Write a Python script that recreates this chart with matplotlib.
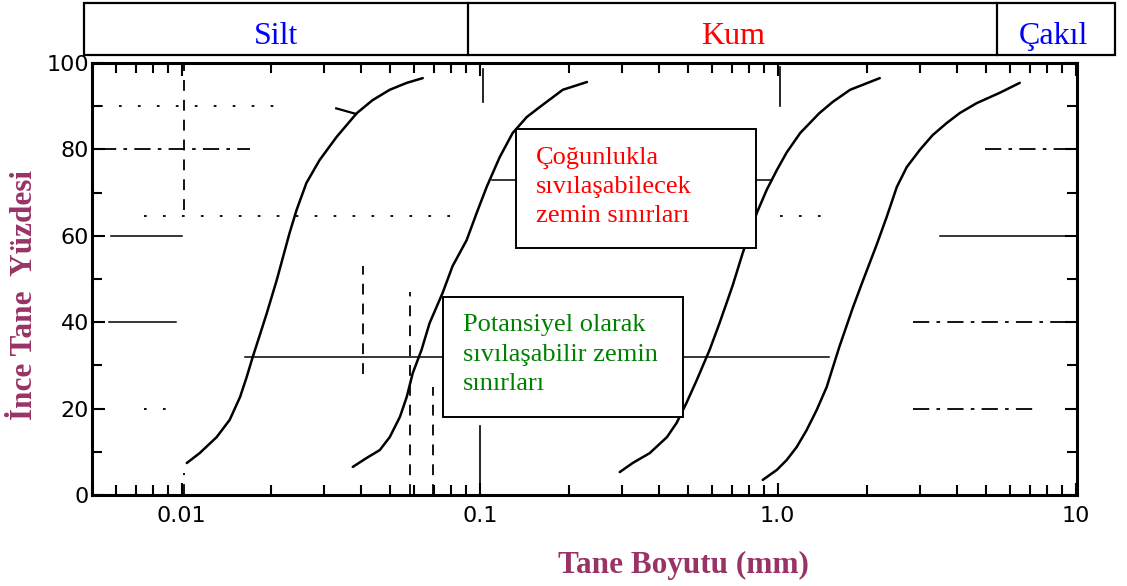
import matplotlib
matplotlib.use("Agg")
import matplotlib.pyplot as plt
from matplotlib.patches import Rectangle
from matplotlib.lines import Line2D

# Grain size limit curves (diameter in mm, percent finer)
c1_d = [0.0104, 0.01149, 0.0131, 0.01449, 0.0157, 0.01652, 0.0173, 0.01828, 0.0193, 0.02085,
        0.0230, 0.0243, 0.0262, 0.0290, 0.0331, 0.0387, 0.0437, 0.0499, 0.0569, 0.0644]
c1_p = [7.4, 9.7, 13.4, 17.4, 22.7, 27.3, 31.9, 37.0, 42.1, 49.8,
        60.6, 66.0, 72.2, 77.5, 82.9, 88.4, 91.4, 93.8, 95.4, 96.5]

c2_d = [0.0375, 0.0418, 0.0462, 0.0499, 0.054, 0.0569, 0.0596, 0.0638, 0.0679, 0.0751,
        0.0811, 0.0904, 0.0977, 0.1055, 0.1167, 0.129, 0.1439, 0.159, 0.190, 0.229]
c2_p = [6.5, 8.6, 10.4, 13.4, 18.1, 22.7, 28.2, 33.6, 39.8, 46.8,
        53.0, 59.0, 65.3, 71.3, 78.2, 83.8, 87.5, 89.8, 93.8, 95.6]

c3_d = [0.295, 0.326, 0.372, 0.425, 0.458, 0.494, 0.535, 0.591, 0.638, 0.674, 0.706,
        0.763, 0.851, 0.918, 0.993, 1.072, 1.19, 1.38, 1.53, 1.75, 2.20]
c3_p = [5.3, 7.4, 9.7, 13.4, 16.7, 21.3, 26.6, 33.6, 39.8, 44.5, 48.5,
        56.0, 65.3, 70.6, 75.2, 79.3, 83.8, 88.4, 91.0, 93.8, 96.5]

c4_d = [0.891, 0.993, 1.072, 1.158, 1.25, 1.352, 1.46, 1.61, 1.79, 1.929, 2.15,
        2.322, 2.51, 2.71, 3.00, 3.31, 3.69, 4.08, 4.65, 5.56, 6.49]
c4_p = [3.5, 5.8, 8.1, 11.1, 15.0, 19.7, 25.0, 34.3, 43.5, 49.5, 58.0,
        64.4, 71.3, 75.9, 79.9, 83.3, 86.1, 88.4, 90.7, 93.1, 95.4]

# leftover reference lines on the chart sheet
solid_y = [60, 60, 40, 32, 73]
solid_x0 = [0.0058, 3.50, 0.0057, 0.0163, 0.110]
solid_x1 = [0.0100, 10.0, 0.0096, 1.49, 0.96]

dashdot_y = [80, 80, 40, 20]
dashdot_x0 = [0.0053, 4.95, 2.84, 2.84]
dashdot_x1 = [0.0169, 10.0, 9.8, 7.4]

dotted_y = [64.5, 64.5, 20, 90]
dotted_x0 = [0.0075, 1.02, 0.0075, 0.0053]
dotted_x1 = [0.085, 1.50, 0.0093, 0.021]

vert_x = [0.0102, 0.0102, 0.0405, 0.0582, 0.0695]
vert_y0 = [66, 0, 28, 0, 0]
vert_y1 = [100, 5, 53, 47, 25]

solid_vx = [0.1, 0.1023, 1.02]
solid_vy0 = [0, 91, 90]
solid_vy1 = [16, 98.6, 99]

x_ticks = [0.01, 0.1, 1.0, 10]
x_ticklabels = ["0.01", "0.1", "1.0", "10"]
y_ticks = [0, 20, 40, 60, 80, 100]

zones = ["Silt", "Kum", "Çakıl"]
zone_colors = ["#0000ff", "#ff0000", "#0000ff"]

W, H = 1127, 586


def fx(px):
    return px / W


def fy(py):
    return 1 - py / H


fig = plt.figure(figsize=(W / 100, H / 100), dpi=100)
fig.patch.set_facecolor("white")
ax = fig.add_axes([fx(92), fy(495), fx(1077) - fx(92), fy(63) - fy(495)])

for d, p in [(c1_d, c1_p), (c2_d, c2_p), (c3_d, c3_p), (c4_d, c4_p)]:
    ax.plot(d, p, color="black", lw=1.8, solid_capstyle="round", solid_joinstyle="round")

# small arrow tick on the first curve
ax.plot([0.033, 0.0385], [89.5, 88.2], color="black", lw=1.6)

for y, a, b in zip(solid_y, solid_x0, solid_x1):
    ax.plot([a, b], [y, y], color="black", lw=1.1)
for y, a, b in zip(dashdot_y, dashdot_x0, dashdot_x1):
    ax.plot([a, b], [y, y], color="black", lw=1.3, dashes=(9, 4, 2, 4))
for y, a, b in zip(dotted_y, dotted_x0, dotted_x1):
    ax.plot([a, b], [y, y], color="black", lw=1.3, dashes=(1.5, 9))
for x, a, b in zip(vert_x, vert_y0, vert_y1):
    ax.plot([x, x], [a, b], color="black", lw=1.3, dashes=(6, 5))
for x, a, b in zip(solid_vx, solid_vy0, solid_vy1):
    ax.plot([x, x], [a, b], color="black", lw=1.2)

ax.set_xscale("log")
ax.set_xlim(0.005, 10.1)
ax.set_ylim(0, 100)
ax.set_xticks(x_ticks)
ax.set_xticklabels(x_ticklabels)
ax.set_yticks(y_ticks)
ax.set_yticks(range(10, 100, 20), minor=True)
ax.tick_params(which="both", direction="in", top=True, right=True, width=1.5,
               labelsize=16, colors="black")
ax.tick_params(which="major", length=9, pad=8)
ax.tick_params(which="minor", length=7)
ax.tick_params(axis="y", which="major", pad=2)
for lab in ax.get_xticklabels() + ax.get_yticklabels():
    lab.set_fontfamily("DejaVu Sans")
for s in ax.spines.values():
    s.set_linewidth(2.2)

serif = "Liberation Serif"
maroon = "#993366"
fig.text(fx(683), fy(565), "Tane Boyutu (mm)", ha="center", va="center",
         fontsize=22.5, fontweight="bold", color=maroon, family=serif)
fig.text(fx(25), fy(295), "İnce Tane  Yüzdesi", ha="center", va="center", rotation=90,
         fontsize=22.5, fontweight="bold", color=maroon, family=serif)

# soil class header bar
fig.patches.append(Rectangle((fx(84), fy(55)), fx(1115) - fx(84), fy(3) - fy(55),
                             transform=fig.transFigure, fill=False, ec="black", lw=1.6))
for px in [468, 997]:
    fig.add_artist(Line2D([fx(px), fx(px)], [fy(55), fy(3)], transform=fig.transFigure,
                          color="black", lw=1.6))
for name, col, cx in zip(zones, zone_colors, [276, 733, 1053]):
    fig.text(fx(cx), fy(44), name, ha="center", va="baseline", fontsize=23,
             color=col, family=serif)

# annotation boxes
boxes = [
    ((516, 129, 756, 248), 536, [164, 193, 222],
     ["Çoğunlukla", "sıvılaşabilecek", "zemin sınırları"], "#ff0000"),
    ((443, 297, 683, 417), 463, [331, 361, 390],
     ["Potansiyel olarak", "sıvılaşabilir zemin", "sınırları"], "#008000"),
]
for (l, t, r, b), tx, bases, lines, col in boxes:
    fig.patches.append(Rectangle((fx(l), fy(b)), fx(r) - fx(l), fy(t) - fy(b),
                                 transform=fig.transFigure, fc="white", ec="black",
                                 lw=1.4, zorder=5))
    for by, txt in zip(bases, lines):
        fig.text(fx(tx), fy(by), txt, ha="left", va="baseline", fontsize=19,
                 color=col, family=serif, zorder=6)

fig.savefig("out.png", dpi=100)
